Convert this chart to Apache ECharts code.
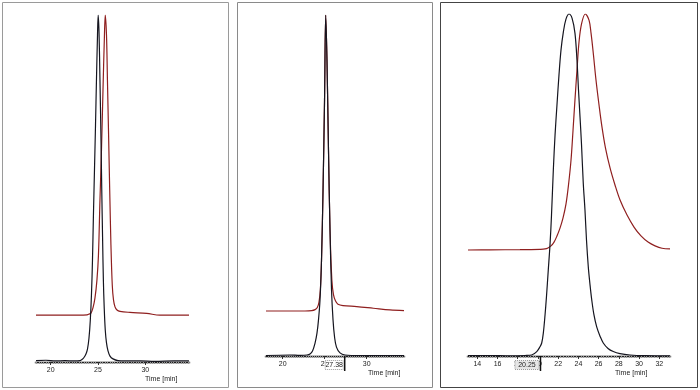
<!DOCTYPE html>
<html><head><meta charset="utf-8">
<script src="https://cdn.jsdelivr.net/npm/echarts@6/dist/echarts.min.js"></script>
<style>html,body{margin:0;padding:0;background:#fff}#c{width:700px;height:390px}</style>
</head><body><div id="c"></div>
<script>
// ---- axis extents and tick labels (minutes) ----
const p1Range = [18.45, 34.62];
const p2Range = [18.01, 34.44];
const p3Range = [13.08, 33.06];
const p1Ticks = [20, 25, 30];
const p2Ticks = [20, 25, 30];
const p3Ticks = [14, 16, 18, 20, 22, 24, 26, 28, 30, 32];
const axisTitle = 'Time [min]';
const p2Cursor = 27.38, p2CursorLabel = '27.38';
const p3Cursor = 20.25, p3CursorLabel = '20.25';

// ---- traces: [time (min), signal (relative, peak = 100)] ----
const p1Black = [[18.45,0.4],[19.5,0.5],[20.5,0.3],[21.5,0.4],[22.5,0.3],[23.10,0.4],[23.31,0.7],[23.52,1.3],[23.73,2.3],[23.89,3.7],[24.05,6.9],[24.19,12.1],[24.31,19.3],[24.42,29.4],[24.52,42.4],[24.63,55.3],[24.74,68.3],[24.84,81.3],[24.95,94.2],[25.02,100],[25.11,95.1],[25.21,81.3],[25.32,64.0],[25.40,49.6],[25.49,35.2],[25.57,23.6],[25.66,15.6],[25.77,9.2],[25.90,5.5],[26.06,3.2],[26.27,1.7],[26.59,0.9],[27.12,0.4],[27.86,0.3],[29.5,0.3],[31.0,0.2],[33.0,0.3],[34.62,0.3]];
const p1Red = [[18.45,13.5],[21.0,13.5],[23.0,13.5],[23.84,13.6],[24.05,13.8],[24.26,14.1],[24.47,15.6],[24.68,18.4],[24.89,23.6],[25.05,30.8],[25.21,46.7],[25.37,61.1],[25.53,78.4],[25.67,92.8],[25.77,100],[25.90,94.2],[26.00,81.3],[26.11,66.9],[26.24,49.6],[26.37,33.7],[26.51,22.2],[26.64,17.9],[26.80,15.9],[27.01,15.0],[27.33,14.6],[28.38,14.3],[30.15,14.0],[31.55,13.5],[34.62,13.5]];

const p2Black = [[18.01,0.15],[20.87,0.3],[22.06,0.2],[22.89,0.3],[23.25,0.6],[23.55,1.5],[23.85,3.8],[24.08,6.7],[24.26,10.6],[24.44,16.4],[24.62,28.2],[24.80,48.7],[24.98,75.1],[25.12,100],[25.27,86.8],[25.45,60.4],[25.63,37.0],[25.81,19.4],[25.99,10.6],[26.17,5.6],[26.40,2.6],[26.82,0.9],[27.42,0.3],[29.20,0.15],[34.44,0.15]];
const p2Red = [[18.01,13.2],[20.87,13.2],[22.65,13.2],[23.45,13.3],[23.85,13.6],[24.12,14.2],[24.32,15.8],[24.48,19.4],[24.62,28.2],[24.80,48.7],[24.98,75.1],[25.12,100],[25.27,86.8],[25.45,60.4],[25.63,37.0],[25.85,22.3],[26.05,17.9],[26.29,16.1],[26.58,15.2],[27.18,14.8],[28.81,14.5],[30.79,14.0],[32.77,13.5],[34.44,13.3]];

const p3Black = [[13.08,0.15],[15.26,0.15],[17.23,0.05],[18.72,0.15],[19.38,0.3],[19.88,1.3],[20.20,2.7],[20.37,3.8],[20.53,6.7],[20.70,12.0],[20.84,17.3],[21.02,25.1],[21.19,32.5],[21.34,41.2],[21.52,54.4],[21.69,64.6],[21.88,73.4],[22.08,82.2],[22.28,89.5],[22.51,94.7],[22.77,98.5],[23.07,100],[23.37,98.8],[23.66,94.4],[23.86,86.5],[24.01,77.8],[24.16,69.9],[24.31,61.7],[24.48,50.6],[24.65,42.7],[24.80,33.9],[24.98,26.0],[25.15,20.8],[25.32,16.4],[25.54,12.0],[25.81,8.5],[26.14,5.8],[26.46,3.8],[26.93,2.2],[27.45,1.3],[28.11,0.7],[29.10,0.3],[30.59,0.1],[33.06,0.05]];
const p3Red = [[13.08,31.0],[15.26,31.05],[18.22,31.1],[20.20,31.2],[20.70,31.3],[20.99,31.6],[21.29,32.2],[21.59,33.3],[21.88,35.1],[22.18,37.4],[22.48,40.4],[22.77,44.4],[23.02,50.0],[23.27,57.3],[23.47,66.1],[23.66,74.9],[23.86,83.6],[24.06,91.8],[24.31,97.1],[24.68,100],[25.05,98.2],[25.25,94.4],[25.49,88.0],[25.74,80.7],[26.04,73.4],[26.33,67.0],[26.68,60.8],[27.13,55.0],[27.62,50.0],[28.12,45.6],[28.81,41.2],[29.50,37.7],[30.19,35.1],[30.89,33.3],[31.58,32.2],[32.27,31.5],[33.06,31.3]];

const FONT = '"Liberation Sans", Arial, sans-serif';
const BLACK = '#15151f';
const RED = '#8f1f1f';

const panels = [
  {range:p1Range, ticks:p1Ticks, black:p1Black, red:p1Red, grid:{left:36, top:15, width:153, height:347}},
  {range:p2Range, ticks:p2Ticks, black:p2Black, red:p2Red, grid:{left:266, top:15, width:138, height:341}},
  {range:p3Range, ticks:p3Ticks, black:p3Black, red:p3Red, grid:{left:468, top:14, width:202, height:342}}
];

function minorValues(r, step){
  const out = [];
  for (let i = Math.ceil(r[0]/step); i*step <= r[1]; i++) out.push(+(i*step).toFixed(3));
  return out;
}

const grids = [], xAxes = [], yAxes = [], series = [];
panels.forEach((p, i) => {
  grids.push(Object.assign({containLabel:false}, p.grid));
  xAxes.push({gridIndex:i, type:'value', min:p.range[0], max:p.range[1], position:'bottom',
    axisLine:{show:true, lineStyle:{color:'#bdbdbd', width:3}},
    axisTick:{show:true, customValues:minorValues(p.range, 0.25), length:2, lineStyle:{color:'#999', width:1}},
    axisLabel:{show:false}, splitLine:{show:false}});
  xAxes.push({gridIndex:i, type:'value', min:p.range[0], max:p.range[1], position:'bottom',
    axisLine:{show:true, lineStyle:{color:'#222', width:1}},
    axisTick:{show:true, customValues:p.ticks, length:3, lineStyle:{color:'#333', width:1}},
    axisLabel:{show:true, customValues:p.ticks, fontSize:7, color:'#222', margin:5, fontFamily:FONT},
    splitLine:{show:false}});
  yAxes.push({gridIndex:i, type:'value', min:0, max:100, show:false});
  const common = {type:'line', xAxisIndex:2*i+1, yAxisIndex:i, showSymbol:false, smooth:0.35,
    animation:false, silent:true};
  series.push(Object.assign({name:'black'+i, data:p.black, lineStyle:{color:BLACK, width:1.2}, z:3}, common));
  series.push(Object.assign({name:'red'+i, data:p.red, lineStyle:{color:RED, width:1.2}, z:2}, common));
});

const chart = echarts.init(document.getElementById('c'), null, {renderer:'canvas'});
chart.setOption({animation:false, backgroundColor:'#fff', grid:grids, xAxis:xAxes, yAxis:yAxes, series:series});

const graphics = [
  {type:'rect', shape:{x:2.5, y:2.5, width:226, height:385}, style:{fill:null, stroke:'#9a9a9a', lineWidth:1}, z:0},
  {type:'rect', shape:{x:237.5, y:2.5, width:195, height:385}, style:{fill:null, stroke:'#8a8a8a', lineWidth:1}, z:0},
  {type:'rect', shape:{x:440.5, y:2.5, width:257, height:385}, style:{fill:null, stroke:'#444', lineWidth:1}, z:0}
];
const titlePos = [[145, 17], [368, 17], [615, 17]];
titlePos.forEach(([x, dy], i) => {
  const y0 = chart.convertToPixel({yAxisIndex:i}, 0);
  graphics.push({type:'text', x:x, y:y0+dy, style:{text:axisTitle, font:'7px ' + FONT, fill:'#222', verticalAlign:'middle'}, z:10});
});
function cursor(panelIdx, val, label, boxW, fill){
  const px = chart.convertToPixel({xAxisIndex:2*panelIdx+1}, val);
  const y0 = chart.convertToPixel({yAxisIndex:panelIdx}, 0);
  graphics.push({type:'rect', shape:{x:px-1.5-boxW, y:y0+4.5, width:boxW, height:9},
    style:{fill:fill, stroke:'#9a9a9a', lineWidth:1, lineDash:[1,1]}, z:11});
  graphics.push({type:'text', x:px-1.5-boxW/2, y:y0+9.2, style:{text:label, font:'7px ' + FONT, fill:'#222', align:'center', verticalAlign:'middle'}, z:12});
  graphics.push({type:'line', shape:{x1:px, y1:y0, x2:px, y2:y0+15}, style:{stroke:'#111', lineWidth:1.5}, z:12});
}
cursor(1, p2Cursor, p2CursorLabel, 18, '#fff');
cursor(2, p3Cursor, p3CursorLabel, 24, '#e6e6e6');
chart.setOption({graphic:graphics});
</script>
</body></html>
